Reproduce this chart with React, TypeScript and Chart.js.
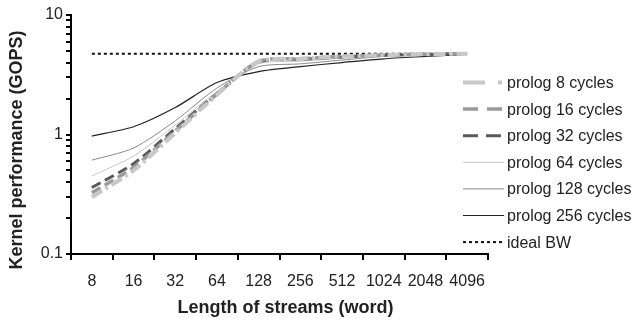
import { useEffect, useRef } from "react";
import { Chart, registerables } from "chart.js";

Chart.register(...registerables);

const categories = ["8", "16", "32", "64", "128", "256", "512", "1024", "2048", "4096"];

const prolog8 = [0.3, 0.5, 1.03, 2.15, 4.1, 4.3, 4.5, 4.62, 4.7, 4.75];
const prolog16 = [0.325, 0.53, 1.07, 2.18, 4.1, 4.3, 4.5, 4.62, 4.7, 4.75];
const prolog32 = [0.36, 0.57, 1.12, 2.2, 4.05, 4.25, 4.45, 4.6, 4.68, 4.75];
const prolog64 = [0.45, 0.66, 1.2, 2.3, 3.9, 4.1, 4.35, 4.55, 4.65, 4.75];
const prolog128 = [0.61, 0.77, 1.3, 2.45, 3.7, 3.9, 4.2, 4.5, 4.62, 4.72];
const prolog256 = [0.97, 1.16, 1.68, 2.72, 3.36, 3.7, 4.0, 4.3, 4.5, 4.7];
const idealBW = [4.75, 4.75, 4.75, 4.75, 4.75, 4.75, 4.75, 4.75, 4.75, 4.75];

const seriesNames = [
  "prolog 8 cycles",
  "prolog 16 cycles",
  "prolog 32 cycles",
  "prolog 64 cycles",
  "prolog 128 cycles",
  "prolog 256 cycles",
  "ideal BW",
];

const yTickValues = [
  0.1, 0.2, 0.3, 0.4, 0.5, 0.6, 0.7, 0.8, 0.9,
  1, 2, 3, 4, 5, 6, 7, 8, 9, 10,
];
const yTickLabels = ["0.1", "1", "10"];

const xTitle = "Length of streams (word)";
const yTitle = "Kernel performance (GOPS)";

const FONT = "'Liberation Sans', Arial, Helvetica, sans-serif";

const styles = [
  { color: "#c8c8c8", width: 4, dash: [12, 4, 3, 4], legendDash: [22, 13, 4, 13] },
  { color: "#999999", width: 3.5, dash: [10, 5], legendDash: [15, 9] },
  { color: "#5a5a5a", width: 3, dash: [10, 5], legendDash: [15, 8] },
  { color: "#c8c8c8", width: 1, dash: [], legendDash: [] },
  { color: "#888888", width: 1, dash: [], legendDash: [] },
  { color: "#222222", width: 1.2, dash: [], legendDash: [] },
  { color: "#111111", width: 2, dash: [3, 3], legendDash: [3, 3] },
];

const legendPlugin = {
  id: "customLegend",
  afterDraw(chart: any) {
    const ctx = chart.ctx;
    ctx.save();
    const x0 = 463;
    const x1 = 504;
    const startY = 82.5;
    const step = 26.6;
    chart.data.datasets.forEach((ds: any, i: number) => {
      const st = styles[i];
      const y = startY + i * step;
      ctx.beginPath();
      ctx.strokeStyle = st.color;
      ctx.lineWidth = st.width;
      ctx.setLineDash(st.legendDash);
      ctx.moveTo(x0, y);
      ctx.lineTo(x1, y);
      ctx.stroke();
      ctx.setLineDash([]);
      ctx.fillStyle = "#222222";
      ctx.font = `16px ${FONT}`;
      ctx.textBaseline = "middle";
      ctx.textAlign = "left";
      ctx.fillText(ds.label, 507, y + 1);
    });

    // axis titles
    ctx.fillStyle = "#222222";
    ctx.font = `bold 18px ${FONT}`;
    ctx.textAlign = "center";
    ctx.textBaseline = "alphabetic";
    ctx.fillText(xTitle, 285.5, 313);

    ctx.translate(21.5, 150);
    ctx.rotate(-Math.PI / 2);
    ctx.fillText(yTitle, 0, 0);
    ctx.restore();
  },
};

export default function App() {
  const canvasRef = useRef<HTMLCanvasElement | null>(null);

  useEffect(() => {
    if (!canvasRef.current) return;
    const allSeries = [prolog8, prolog16, prolog32, prolog64, prolog128, prolog256, idealBW];
    const datasets = allSeries.map((data, i) => ({
      label: seriesNames[i],
      data,
      borderColor: styles[i].color,
      backgroundColor: styles[i].color,
      borderWidth: styles[i].width,
      borderDash: styles[i].dash,
      pointRadius: 0,
      tension: i === 6 ? 0 : 0.25,
      fill: false,
    }));

    const chart = new Chart(canvasRef.current, {
      type: "line",
      data: { labels: categories, datasets },
      plugins: [legendPlugin],
      options: {
        animation: false,
        responsive: true,
        maintainAspectRatio: false,
        layout: { padding: { left: 0, right: 151, top: 15, bottom: 0 } },
        plugins: {
          legend: { display: false },
          tooltip: { enabled: false },
        },
        scales: {
          x: {
            type: "category",
            offset: true,
            afterFit: (scale: any) => {
              scale.height = 66;
            },
            grid: {
              offset: true,
              drawOnChartArea: false,
              drawTicks: true,
              tickLength: 6,
              color: "#000000",
              lineWidth: 2,
            },
            border: { display: true, color: "#000000", width: 2 },
            ticks: {
              color: "#222222",
              font: { family: FONT, size: 16 },
              padding: 12,
              maxRotation: 0,
              autoSkip: false,
            },
            title: { display: false },
          },
          y: {
            type: "logarithmic",
            min: 0.1,
            max: 10,
            afterFit: (scale: any) => {
              scale.width = 71;
            },
            afterBuildTicks: (scale: any) => {
              scale.ticks = yTickValues.map((v) => ({ value: v }));
            },
            grid: {
              drawOnChartArea: false,
              drawTicks: true,
              tickLength: 5,
              color: "#000000",
              lineWidth: 2,
            },
            border: { display: true, color: "#000000", width: 2 },
            ticks: {
              color: "#222222",
              font: { family: FONT, size: 16 },
              padding: 3,
              autoSkip: false,
              callback: (value: any) => {
                const s = String(value);
                return yTickLabels.includes(s) ? s : "";
              },
            },
            title: { display: false },
          },
        },
      },
    } as any);

    return () => chart.destroy();
  }, []);

  return (
    <div style={{ position: "absolute", left: 0, top: 0, width: 639, height: 320, background: "#ffffff" }}>
      <canvas ref={canvasRef} />
    </div>
  );
}
